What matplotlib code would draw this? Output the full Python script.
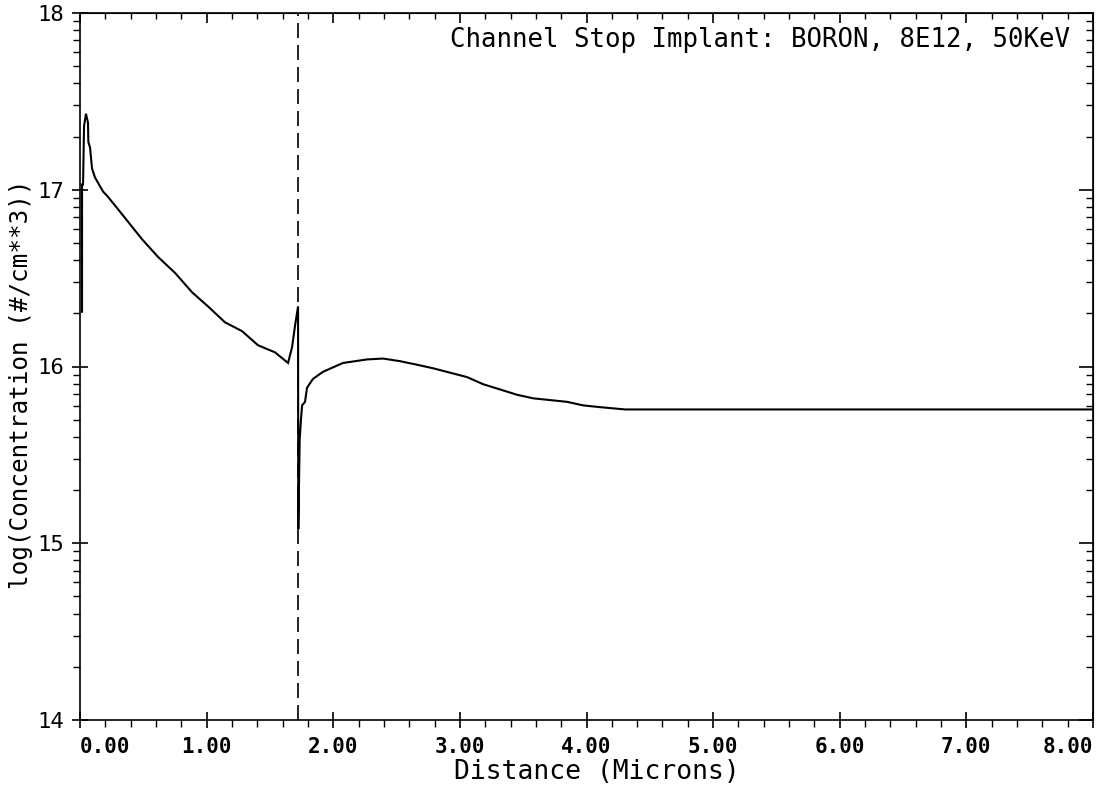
import matplotlib
matplotlib.use("Agg")
import matplotlib.pyplot as plt
import numpy as np
from matplotlib.ticker import FixedLocator, MultipleLocator

# boron profile (distance in microns, log10 concentration)
dist = [0.016, 0.016, 0.024, 0.032, 0.047, 0.063, 0.066, 0.079, 0.095, 0.118,
        0.182, 0.221, 0.300, 0.490, 0.616, 0.750, 0.885, 1.011, 1.145, 1.280,
        1.406, 1.540, 1.643, 1.675, 1.698, 1.722, 1.724, 1.735, 1.745, 1.754,
        1.777, 1.793, 1.840, 1.919, 2.077, 2.267, 2.393, 2.528, 2.662, 2.788,
        3.057, 3.183, 3.318, 3.452, 3.578, 3.847, 3.973, 4.107, 4.305, 8.0]
logc = [16.31, 17.03, 17.03, 17.36, 17.43, 17.38, 17.27, 17.24, 17.12, 17.07,
        16.99, 16.96, 16.89, 16.72, 16.62, 16.53, 16.42, 16.34, 16.25, 16.20,
        16.12, 16.08, 16.02, 16.11, 16.23, 16.34, 15.08, 15.59, 15.70, 15.78,
        15.80, 15.88, 15.93, 15.97, 16.02, 16.04, 16.045, 16.03, 16.01, 15.99,
        15.94, 15.90, 15.87, 15.84, 15.82, 15.80, 15.78, 15.77, 15.757, 15.757]

interface_x = 1.722
xticks = [0, 1, 2, 3, 4, 5, 6, 7, 8]
xlabels = ["0.00", "1.00", "2.00", "3.00", "4.00", "5.00", "6.00", "7.00", "8.00"]
yticks = [14, 15, 16, 17, 18]
ylabels = ["14", "15", "16", "17", "18"]
title = "Channel Stop Implant: BORON, 8E12, 50KeV"

mono = "DejaVu Sans Mono"
plt.rcParams["font.family"] = mono

fig = plt.figure(figsize=(11.04, 7.91), dpi=100)
ax = fig.add_axes([80 / 1104, 1 - 720 / 791, 1013 / 1104, 707 / 791])

ax.plot(dist, logc, color="black", lw=1.5, solid_joinstyle="miter")
ax.axvline(interface_x, color="black", lw=1.2, linestyle=(0, (9, 4.2)))

ax.set_xlim(0, 8)
ax.set_ylim(14, 18)

yminor = [d + np.log10(k) for d in range(14, 18) for k in range(2, 10)]

ax.set_xticks(xticks)
ax.set_xticklabels(xlabels, fontsize=15, fontweight="bold")
ax.xaxis.set_minor_locator(MultipleLocator(0.2))
ax.set_yticks(yticks)
ax.set_yticklabels(ylabels, fontsize=16)
ax.yaxis.set_minor_locator(FixedLocator(yminor))

labs = ax.get_xticklabels()
labs[0].set_horizontalalignment("left")
labs[-1].set_horizontalalignment("right")

ax.tick_params(which="major", direction="inout", length=11, width=1.2)
ax.tick_params(which="minor", direction="out", length=5, width=1.0)
ax.tick_params(axis="x", which="major", pad=7)
ax.tick_params(axis="y", which="major", pad=6)

for s in ax.spines.values():
    s.set_linewidth(1.2)

# top and right: ticks point inward, no labels
top = ax.secondary_xaxis("top")
top.set_xticks(xticks)
top.xaxis.set_minor_locator(MultipleLocator(0.2))
top.tick_params(which="major", direction="in", length=7, width=1.2, labeltop=False)
top.tick_params(which="minor", direction="in", length=4, width=1.0)
right = ax.secondary_yaxis("right")
right.set_yticks(yticks)
right.yaxis.set_minor_locator(FixedLocator(yminor))
right.tick_params(which="major", direction="in", length=10, width=1.2, labelright=False)
right.tick_params(which="minor", direction="in", length=5, width=1.0)

ax.text(7.82, 17.85, title, ha="right", va="center", fontsize=18.5)
ax.set_xlabel("Distance (Microns)", fontsize=19, labelpad=0)
ax.xaxis.set_label_coords(0.51, -0.055)
ax.set_ylabel("log(Concentration (#/cm**3))", fontsize=17.5)
ax.yaxis.set_label_coords(-0.046, 0.475)

fig.savefig("out.png", dpi=100)
